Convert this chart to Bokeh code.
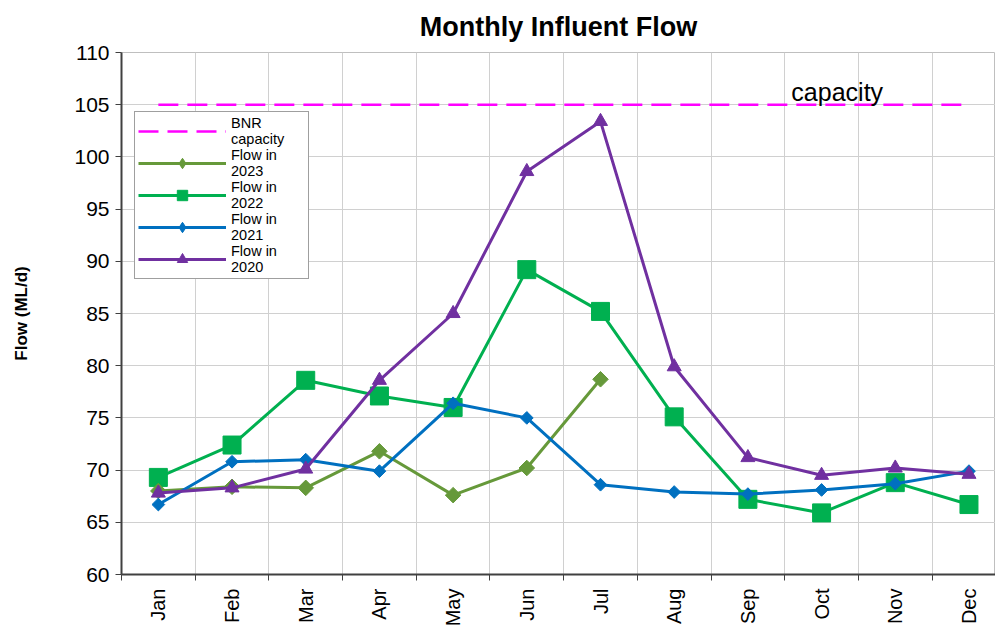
import math
from bokeh.plotting import figure
from bokeh.models import (Range1d, FixedTicker, Legend, LegendItem, Label, Title)
from bokeh.embed import file_html
from bokeh.resources import INLINE

months = ["Jan", "Feb", "Mar", "Apr", "May", "Jun", "Jul", "Aug", "Sep", "Oct", "Nov", "Dec"]
flow_2023 = [68.0, 68.4, 68.3, 71.8, 67.6, 70.2, 78.7]
flow_2022 = [69.3, 72.4, 78.6, 77.1, 76.0, 89.2, 85.2, 75.1, 67.2, 65.9, 68.8, 66.7]
flow_2021 = [66.7, 70.8, 71.0, 69.9, 76.4, 75.0, 68.6, 67.9, 67.7, 68.1, 68.7, 69.9]
flow_2020 = [67.8, 68.3, 70.1, 78.6, 85.0, 98.6, 103.4, 79.9, 71.2, 69.5, 70.2, 69.6]
bnr_capacity = 105
y_ticks = [60, 65, 70, 75, 80, 85, 90, 95, 100, 105, 110]
chart_title = "Monthly Influent Flow"

xs = list(range(1, len(months) + 1))
FONT = "Liberation Sans"

p = figure(frame_width=874, frame_height=522, output_backend="svg", toolbar_location=None,
           x_range=Range1d(0.5, 12.36), y_range=Range1d(60, 110),
           min_border_left=121, min_border_right=0, min_border_top=52, min_border_bottom=5)
p.background_fill_color = "white"
p.border_fill_color = "white"
p.outline_line_color = "#bfbfbf"
p.outline_line_width = 1

p.title = Title(text=chart_title, align="center", vertical_align="top", text_font=FONT,
                text_font_size="27px", text_font_style="bold", text_color="black")
p.title.standoff = 17

# axes
p.xaxis.ticker = FixedTicker(ticks=xs, minor_ticks=[x - 0.5 for x in xs] + [12.5])
p.xaxis.major_label_overrides = {x: m for x, m in zip(xs, months)}
p.xaxis.major_label_orientation = math.pi / 2
p.xaxis.major_tick_out = 0
p.xaxis.major_tick_in = 0
p.xaxis.minor_tick_out = 6
p.xaxis.minor_tick_in = 0
p.xaxis.minor_tick_line_color = "#404040"
p.xaxis.major_label_text_font = FONT
p.xaxis.major_label_text_font_size = "20px"
p.xaxis.major_label_text_color = "black"
p.xaxis.axis_line_color = "#404040"
p.xaxis.axis_line_width = 2
p.xaxis.major_label_standoff = 8

p.yaxis.ticker = FixedTicker(ticks=y_ticks)
p.yaxis.major_label_text_font = FONT
p.yaxis.major_label_text_font_size = "21px"
p.yaxis.major_label_text_color = "black"
p.yaxis.axis_line_color = "#404040"
p.yaxis.axis_line_width = 2
p.yaxis.major_tick_out = 6
p.yaxis.major_tick_in = 0
p.yaxis.major_tick_line_color = "#404040"
p.yaxis.minor_tick_line_color = None
p.yaxis.axis_label = "Flow (ML/d)"
p.yaxis.axis_label_text_font = FONT
p.yaxis.axis_label_text_font_size = "17px"
p.yaxis.axis_label_text_font_style = "bold"
p.yaxis.axis_label_text_color = "black"
p.yaxis.axis_label_standoff = 40
p.yaxis.major_label_standoff = 6

p.xgrid.grid_line_color = None
p.xgrid.minor_grid_line_color = "#d0d0d0"
p.xgrid.minor_grid_line_width = 1
p.ygrid.grid_line_color = "#d0d0d0"
p.ygrid.grid_line_width = 1

# capacity line
cap_r = p.line([xs[0], xs[-1]], [bnr_capacity, bnr_capacity], line_color="#ff00ff",
               line_width=2.5, line_dash="20 9")
p.add_layout(Label(x=9.59, y=106.2, text="capacity", text_font=FONT, text_font_size="25px",
                   text_color="black", text_baseline="alphabetic"))

series = [
    ("Flow in\n2022", flow_2022, "#00b050", "square", 18, 0, "square", 11),
    ("Flow in\n2023", flow_2023, "#66993a", "square", 11, math.pi / 4, "diamond", 14),
    ("Flow in\n2021", flow_2021, "#0070c0", "square", 9, math.pi / 4, "diamond", 13),
    ("Flow in\n2020", flow_2020, "#7030a0", "triangle", 14, 0, "triangle", 12),
]
rend = {}
for name, vals, col, mk, sz, ang, lmk, lsz in series:
    x = xs[:len(vals)]
    l = p.line(x, vals, line_color=col, line_width=3)
    s = p.scatter(x, vals, marker=mk, size=sz, angle=ang, fill_color=col, line_color=col)
    # legend-only marker: one point placed outside the visible ranges
    lg = p.scatter(x=[x[0]], y=[vals[0] - 1000], marker=lmk, size=lsz,
                   fill_color=col, line_color=col)
    rend[name] = [l, lg]

items = [LegendItem(label="BNR\ncapacity", renderers=[cap_r])]
for name in ["Flow in\n2023", "Flow in\n2022", "Flow in\n2021", "Flow in\n2020"]:
    items.append(LegendItem(label=name, renderers=rend[name]))

legend = Legend(items=items, location=(13, 295), label_text_font=FONT,
                label_text_font_size="14.5px", label_text_color="black",
                glyph_width=88, glyph_height=26, label_standoff=5, label_width=74,
                spacing=0, padding=3, margin=0, border_line_color="#404040",
                border_line_width=1, background_fill_alpha=1)
p.add_layout(legend, "center")

open("out.html", "w").write(file_html(p, INLINE))
